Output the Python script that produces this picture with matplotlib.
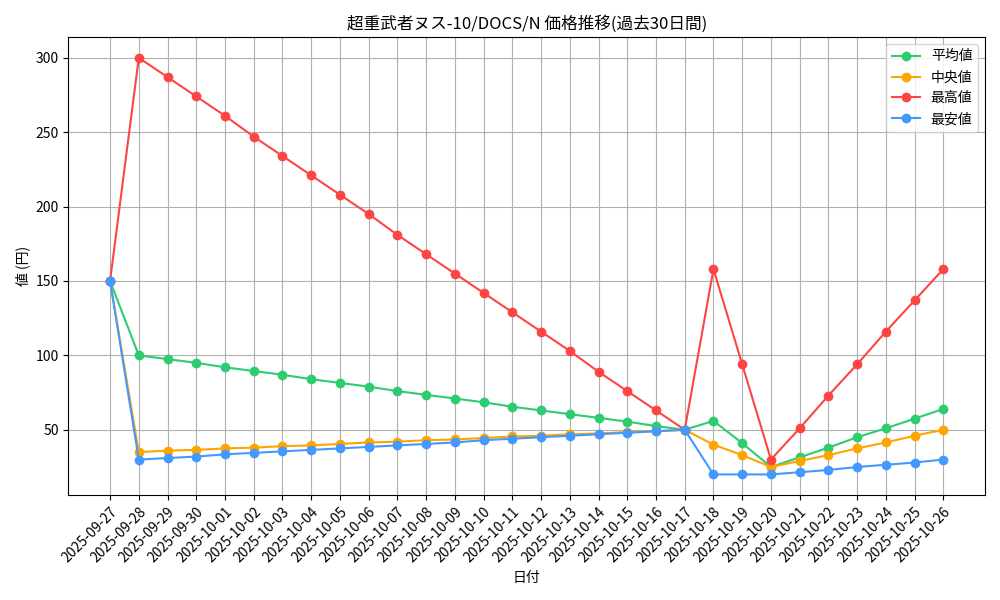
import matplotlib
matplotlib.use("Agg")
import matplotlib.pyplot as plt
import pandas as pd

plt.rcParams['font.family'] = ['Noto Sans CJK JP', 'DejaVu Sans']

# データ
dates = pd.date_range("2025-09-27", "2025-10-26").strftime("%Y-%m-%d").tolist()
mean_vals = [150, 100, 97.5, 95, 92, 89.5, 87, 84, 81.5, 79, 76, 73.5, 71, 68.5, 65.5,
             63, 60.5, 58, 55.5, 52.5, 50, 56, 41, 25, 31.5, 38, 45, 51, 57.5, 64]
median_vals = [150, 35, 36, 36.5, 37.5, 38, 39, 39.5, 40.5, 41.5, 42, 43, 43.5, 44.5, 45.5,
               46, 47, 47.5, 48.5, 49, 50, 40, 33, 25, 29, 33, 37.5, 41.5, 46, 50]
max_vals = [150, 300, 287, 274, 261, 247, 234, 221, 208, 195, 181, 168, 155, 142, 129,
            116, 103, 89, 76, 63, 50, 158, 94, 30, 51, 73, 94, 116, 137, 158]
min_vals = [150, 30, 31, 32, 33.5, 34.5, 35.5, 36.5, 37.5, 38.5, 39.5, 40.5, 41.5, 43, 44,
            45, 46, 47, 48, 49, 50, 20, 20, 20, 21.5, 23, 25, 26.5, 28, 30]

fig, ax = plt.subplots(figsize=(10, 6), dpi=100)
ax.plot(dates, mean_vals, marker='o', color='#2ecc71', label='平均値')
ax.plot(dates, median_vals, marker='o', color='#FFA500', label='中央値')
ax.plot(dates, max_vals, marker='o', color='#ff4444', label='最高値')
ax.plot(dates, min_vals, marker='o', color='#4499ff', label='最安値')

ax.set_title("超重武者ヌス-10/DOCS/N 価格推移(過去30日間)")
ax.set_xlabel("日付")
ax.set_ylabel("値 (円)")
ax.grid(True)
ax.legend(loc='upper right')
plt.xticks(rotation=45, ha='right', rotation_mode='anchor')
plt.tight_layout()
plt.savefig("out.png")
